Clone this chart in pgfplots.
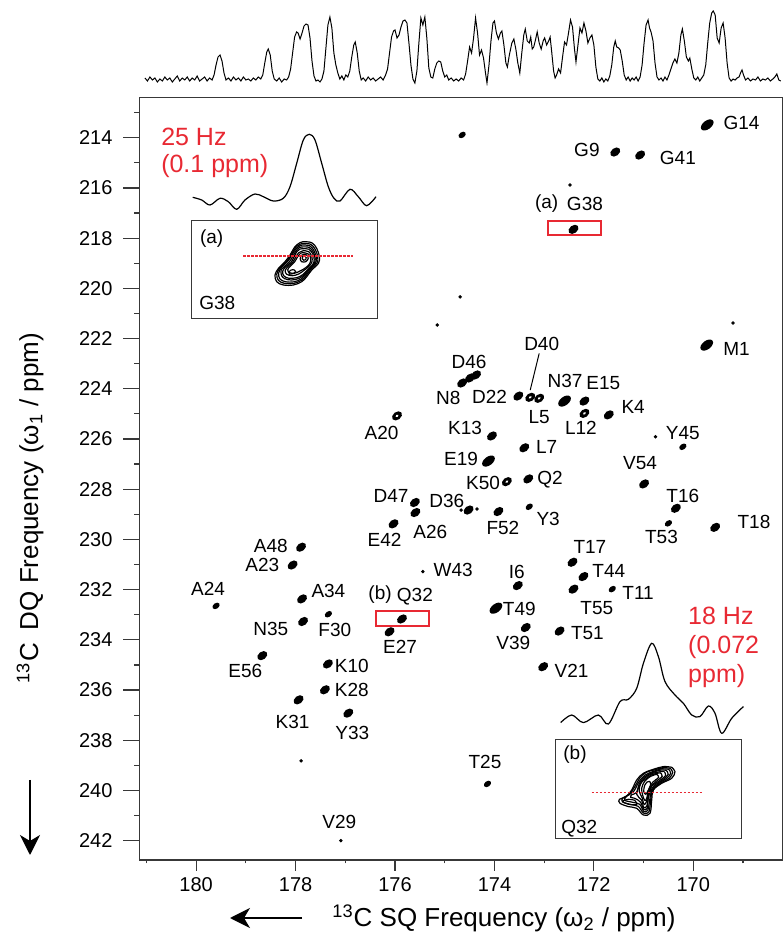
\documentclass[border=0pt]{standalone}
\usepackage{fontspec}
\setmainfont{Liberation Sans}
\usepackage{pgfplots}
\pgfplotsset{compat=1.18}
\usetikzlibrary{arrows.meta}

\definecolor{annot}{rgb}{0.91,0.16,0.20}
\definecolor{frame}{gray}{0.22}

% cross-peak marks: tilted ellipses of a few sizes
\pgfdeclareplotmark{pk}{%
  \pgfpathellipse{\pgfpointorigin}{\pgfqpoint{2.2pt}{1.7pt}}{\pgfqpoint{-1.2pt}{1.55pt}}%
  \pgfusepathqfill}
\pgfdeclareplotmark{pkL}{%
  \pgfpathellipse{\pgfpointorigin}{\pgfqpoint{2.9pt}{2.2pt}}{\pgfqpoint{-1.3pt}{1.7pt}}%
  \pgfusepathqfill}
\pgfdeclareplotmark{pkS}{%
  \pgfpathellipse{\pgfpointorigin}{\pgfqpoint{1.6pt}{1.2pt}}{\pgfqpoint{-0.85pt}{1.1pt}}%
  \pgfusepathqfill}
\pgfdeclareplotmark{pkR}{%
  \pgfpathellipse{\pgfpointorigin}{\pgfqpoint{2.2pt}{1.7pt}}{\pgfqpoint{-1.2pt}{1.55pt}}%
  \pgfusepathqfill
  \pgfscope\pgfsetfillcolor{white}%
  \pgfpathellipse{\pgfpointorigin}{\pgfqpoint{0.7pt}{0.5pt}}{\pgfqpoint{-0.35pt}{0.45pt}}%
  \pgfusepathqfill\endpgfscope}

\newcommand{\lab}[3]{\node[font=\fontsize{9.5}{10}\selectfont, inner sep=0pt] at (axis cs:#1,#2) {#3};}

\pgfplotsset{
  spec2d/.style={
    scale only axis, at={(69.75pt,39pt)}, anchor=south west,
    width=321.4pt, height=381.35pt,
    xmin=168.21, xmax=181.14, ymin=212.39, ymax=242.77,
    x dir=reverse, y dir=reverse, enlargelimits=false,
  },
  inset/.style={
    scale only axis, anchor=south west, clip=false,
    xtick=\empty, ytick=\empty, y dir=reverse,
    axis line style={frame, line width=0.5pt},
    axis background/.style={fill=white},
  },
  contour/.style={black, line width=0.6pt, smooth, tension=0.6, mark=none},
}

\begin{document}
\begin{tikzpicture}
\useasboundingbox (0,0) rectangle (391.5pt,469pt);

% ---------- 1D projection on top ----------
\begin{axis}[
  scale only axis, at={(69.75pt,426pt)}, anchor=south west,
  width=321.4pt, height=39pt,
  xmin=168.21, xmax=181.14, ymin=-3, ymax=75,
  x dir=reverse, hide axis, enlargelimits=false,
]
\addplot[black, line width=0.5pt, mark=none] table {
x y
181.03 5
180.98 2
180.93 6
180.88 3
180.83 5
180.78 1
180.73 4
180.68 2
180.63 6
180.58 3
180.53 5
180.48 1
180.43 4
180.38 7
180.33 2
180.28 5
180.23 3
180.18 6
180.13 2
180.08 5
180.03 3
179.98 7
179.93 2
179.88 4
179.83 6
179.78 2
179.73 5
179.68 3
179.64 8
179.60 18
179.56 26
179.52 28
179.48 22
179.44 10
179.40 3
179.35 5
179.30 2
179.25 6
179.20 3
179.15 5
179.10 2
179.05 6
179.00 3
178.95 4
178.90 2
178.85 5
178.80 3
178.75 6
178.70 4
178.66 8
178.62 20
178.58 31
178.55 34
178.51 28
178.47 12
178.43 4
178.38 2
178.33 5
178.28 1
178.23 4
178.18 3
178.14 6
178.10 14
178.06 30
178.02 46
177.98 51
177.95 50
177.91 44
177.87 50
177.83 57
177.79 59
177.75 58
177.71 45
177.67 22
177.63 7
177.59 2
177.55 3
177.51 1
177.47 4
177.43 12
177.39 35
177.35 58
177.31 66
177.27 55
177.23 30
177.19 18
177.15 10
177.11 4
177.07 7
177.03 3
176.99 8
176.95 6
176.91 12
176.87 26
176.83 38
176.80 41
176.76 30
176.72 12
176.68 3
176.64 5
176.59 2
176.54 6
176.49 3
176.44 5
176.39 2
176.34 4
176.29 6
176.24 3
176.19 8
176.15 14
176.11 30
176.07 46
176.03 52
176.00 53
175.96 45
175.92 48
175.88 56
175.84 62
175.80 63
175.76 60
175.72 40
175.68 18
175.64 4
175.60 0
175.56 12
175.52 40
175.48 65
175.44 58
175.40 66
175.36 45
175.32 15
175.28 6
175.24 5
175.20 14
175.16 20
175.12 22
175.08 21
175.04 12
175.00 6
174.96 8
174.92 3
174.87 5
174.82 2
174.77 4
174.72 2
174.67 5
174.62 3
174.58 9
174.54 22
174.50 36
174.46 30
174.42 45
174.38 65
174.34 50
174.30 28
174.26 33
174.22 25
174.18 10
174.15 0
174.11 18
174.07 42
174.03 60
174.00 62
173.96 50
173.92 44
173.88 50
173.85 52
173.81 38
173.77 20
173.74 16
173.70 28
173.65 40
173.61 44
173.57 34
173.53 20
173.49 10
173.45 30
173.41 48
173.38 54
173.34 42
173.30 40
173.27 46
173.24 34
173.21 36
173.18 42
173.14 51
173.10 40
173.06 34
173.02 42
172.99 45
172.95 38
172.91 42
172.88 46
172.85 32
172.81 12
172.78 5
172.75 8
172.71 14
172.67 10
172.63 26
172.59 41
172.55 38
172.51 50
172.47 63
172.43 56
172.39 34
172.36 21
172.32 38
172.28 55
172.24 50
172.20 60
172.16 52
172.12 40
172.08 45
172.04 48
172.00 38
171.96 16
171.92 4
171.88 2
171.84 5
171.80 1
171.76 4
171.72 2
171.68 7
171.64 18
171.60 36
171.57 42
171.54 36
171.50 35
171.47 33
171.43 22
171.39 8
171.35 3
171.31 6
171.27 2
171.23 5
171.19 3
171.15 6
171.11 2
171.07 6
171.03 18
170.99 40
170.95 58
170.91 63
170.88 55
170.85 51
170.81 42
170.77 20
170.73 6
170.69 3
170.65 5
170.61 2
170.57 6
170.53 3
170.49 8
170.45 14
170.41 20
170.37 24
170.33 20
170.29 30
170.25 48
170.22 54
170.18 42
170.14 26
170.10 22
170.07 25
170.03 14
169.99 5
169.95 3
169.91 6
169.87 2
169.83 5
169.79 8
169.75 18
169.71 40
169.67 60
169.63 70
169.60 72
169.56 68
169.52 45
169.48 40
169.44 55
169.40 60
169.36 45
169.32 20
169.28 5
169.24 2
169.20 4
169.16 3
169.12 5
169.08 6
169.05 10
169.02 13
168.99 8
168.95 3
168.90 5
168.85 2
168.80 4
168.75 3
168.70 6
168.65 2
168.60 4
168.55 3
168.50 5
168.45 2
168.40 4
168.36 6
168.32 9
168.28 3
168.24 2
};
\end{axis}

% ---------- 2D DQ/SQ correlation map ----------
\begin{axis}[spec2d,
  axis line style={frame, line width=0.6pt},
  xtick=\empty,
  ytick={214,216,...,242}, minor ytick={213,215,...,241},
  ytick pos=left, tick align=outside,
  major tick length=8pt, minor tick length=2.5pt,
  tick style={frame, line width=0.6pt},
  yticklabel style={font=\fontsize{10}{12}\selectfont, xshift=-2pt},
  /pgf/number format/assume math mode=true,
]
% normal cross peaks
\addplot[only marks, mark=pk, black, mark options={fill=black}] table {
x y
171.57 214.57
171.07 214.69
172.41 217.65
173.52 224.29
172.19 224.49
171.70 225.04
174.05 225.88
173.40 226.35
173.32 227.59
170.99 227.79
174.52 228.83
173.92 228.89
170.35 228.76
169.56 229.52
175.60 228.53
175.59 228.93
176.03 229.38
177.89 230.31
178.06 231.02
173.53 231.84
172.43 230.91
172.41 231.98
172.21 231.48
177.87 232.37
177.85 233.27
175.86 233.17
176.11 233.68
178.67 234.63
177.35 234.96
177.41 235.99
177.94 236.39
176.94 236.92
173.37 233.51
173.02 235.07
172.69 233.65
174.65 223.77
174.49 223.57
174.37 223.45
};
% larger, elongated cross peaks
\addplot[only marks, mark=pkL, black, mark options={fill=black}] table {
x y
169.72 213.49
169.73 222.26
172.59 224.49
174.12 226.88
173.97 232.74
};
% peaks with an open contour centre
\addplot[only marks, mark=pkR, black, mark options={fill=black}] table {
x y
173.28 224.34
173.10 224.38
172.19 224.98
173.75 227.70
175.96 225.08
};
% weak peaks
\addplot[only marks, mark=pkS, black, mark options={fill=black}] table {
x y
174.65 213.89
170.21 226.31
170.50 229.36
171.63 231.98
173.30 228.70
174.14 239.74
177.34 232.98
179.60 232.65
};
% very weak peaks
\addplot[only marks, mark=*, mark size=0.65pt, black] table {
x y
172.48 215.88
174.69 220.34
175.15 221.46
169.20 221.38
170.76 225.91
174.67 228.83
174.35 228.79
177.89 238.82
177.09 242.00
175.44 231.28
};

% marked regions
\draw[annot, line width=1pt] (axis cs:172.92,217.31) rectangle (axis cs:171.86,217.87);
\draw[annot, line width=1pt] (axis cs:176.39,232.84) rectangle (axis cs:175.31,233.45);
\draw[black, line width=0.5pt] (axis cs:173.10,222.59) -- (axis cs:173.28,224.05);

% residue assignments
\lab{169.03}{213.43}{G14}
\lab{172.14}{214.49}{G9}
\lab{170.31}{214.81}{G41}
\lab{172.95}{216.61}{(a)}
\lab{172.18}{216.64}{G38}
\lab{169.13}{222.41}{M1}
\lab{174.51}{222.92}{D46}
\lab{174.93}{224.38}{N8}
\lab{174.10}{224.31}{D22}
\lab{173.05}{222.23}{D40}
\lab{172.58}{223.69}{N37}
\lab{171.81}{223.78}{E15}
\lab{173.10}{225.11}{L5}
\lab{172.26}{225.55}{L12}
\lab{171.21}{224.74}{K4}
\lab{174.59}{225.57}{K13}
\lab{172.95}{226.31}{L7}
\lab{170.21}{225.77}{Y45}
\lab{174.67}{226.78}{E19}
\lab{171.07}{226.97}{V54}
\lab{174.23}{227.76}{K50}
\lab{172.88}{227.63}{Q2}
\lab{174.96}{228.47}{D36}
\lab{170.21}{228.27}{T16}
\lab{173.83}{229.56}{F52}
\lab{172.92}{229.18}{Y3}
\lab{168.78}{229.29}{T18}
\lab{175.29}{229.69}{A26}
\lab{170.64}{229.89}{T53}
\lab{172.08}{230.29}{T17}
\lab{174.83}{231.22}{W43}
\lab{173.55}{231.28}{I6}
\lab{171.70}{231.24}{T44}
\lab{171.11}{232.12}{T11}
\lab{171.94}{232.72}{T55}
\lab{176.08}{228.26}{D47}
\lab{176.21}{230.02}{E42}
\lab{176.27}{225.77}{A20}
\lab{178.50}{230.25}{A48}
\lab{178.67}{231.02}{A23}
\lab{179.76}{231.97}{A24}
\lab{177.34}{232.04}{A34}
\lab{176.30}{232.21}{(b)}
\lab{175.60}{232.28}{Q32}
\lab{178.50}{233.57}{N35}
\lab{177.21}{233.61}{F30}
\lab{175.90}{234.27}{E27}
\lab{173.50}{232.77}{T49}
\lab{173.62}{234.14}{V39}
\lab{172.13}{233.74}{T51}
\lab{172.45}{235.23}{V21}
\lab{179.01}{235.23}{E56}
\lab{176.87}{235.03}{K10}
\lab{176.87}{236.00}{K28}
\lab{178.06}{237.28}{K31}
\lab{176.86}{237.72}{Y33}
\lab{174.19}{238.85}{T25}
\lab{177.12}{241.26}{V29}

% linewidths of the sliced peaks
\node[annot, anchor=west, align=left, inner sep=0pt, font=\fontsize{12.5}{13.75}\selectfont]
  at (axis cs:180.71,214.61) {25 Hz\\(0.1 ppm)};
\node[annot, anchor=west, align=left, inner sep=0pt, font=\fontsize{12.5}{14.5}\selectfont]
  at (axis cs:170.11,234.31) {18 Hz\\(0.072\\ppm)};
\end{axis}

% x ticks (shorter than the y ticks)
\begin{axis}[spec2d,
  axis x line*=bottom, axis y line=none,
  x axis line style={frame, line width=0.6pt, -},
  xtick={170,172,...,180}, minor xtick={169,171,...,181},
  ytick=\empty, tick align=outside,
  major tick length=5.3pt, minor tick length=1.7pt,
  tick style={frame, line width=0.6pt},
  xticklabel style={font=\fontsize{10}{12}\selectfont},
  /pgf/number format/assume math mode=true,
]
\addplot[draw=none, mark=none] coordinates {(175,230)};
\end{axis}

% ---------- inset (a): G38 ----------
\begin{axis}[inset, at={(95.85pt,309.65pt)}, width=92.8pt, height=49pt,
  xmin=-105, xmax=80.6, ymin=-46, ymax=52]
\addplot[contour] coordinates {(6.7,-25) (15,-24) (20,-18.3) (22.7,-10) (21.7,-3.3) (15,3.3) (10,10) (5,15) (-3.3,18.3) (-13.3,18.3) (-20,15) (-21.7,8.3) (-18.3,1.7) (-11.7,-5) (-6.7,-11.7) (-1.7,-20) (3.3,-24) (6.7,-25)};
\addplot[contour] coordinates {(6.2,-23.2) (14,-22.4) (18.6,-17.1) (21.1,-9.5) (20.2,-3.3) (14,2.8) (9.4,9) (4.8,13.6) (-2.9,16.7) (-12.1,16.7) (-18.3,13.6) (-19.9,7.4) (-16.8,1.3) (-10.6,-4.8) (-6,-11) (-1.4,-18.7) (3.2,-22.4) (6.2,-23.2)};
\addplot[contour] coordinates {(6.0,-21.7) (13.05,-20.85) (17.3,-16.0) (19.6,-8.95) (18.7,-3.3) (13.05,2.36) (8.8,8.05) (4.55,12.3) (-2.5,15.1) (-11.0,15.1) (-16.7,12.3) (-18.1,6.6) (-15.3,1.0) (-9.6,-4.7) (-5.4,-10.4) (-1.1,-17.45) (3.1,-20.85) (6.0,-21.7)};
\addplot[contour] coordinates {(6.2,-19.8) (12.5,-19.2) (16.6,-14.5) (18.5,-8) (17.3,-2.6) (12,2.7) (7.4,8) (2.3,11.7) (-5.2,13.3) (-12,12) (-15.3,8.5) (-15.5,3) (-13,0.5) (-7.8,-4.3) (-4.2,-9.7) (-0.5,-16.2) (3,-19.2) (6.2,-19.8)};
\addplot[contour] coordinates {(6.5,-18) (12,-17.5) (16,-13) (17.5,-7) (16,-2) (11,3) (6,8) (0,11) (-8,11.5) (-13,9) (-14,4.5) (-11,0) (-6,-4) (-3,-9) (0,-15) (3,-17.5) (6.5,-18)};
\addplot[contour] coordinates {(6.8,-16) (12,-15) (15,-10.5) (15.3,-5) (12.5,-0.5) (7.5,3.5) (2,7.3) (-4.5,9) (-10,7.5) (-11.5,3.8) (-8.5,-0.5) (-4,-4.5) (-1,-9.5) (2,-14) (6.8,-16)};
\addplot[contour] coordinates {(7,-14) (12,-12.5) (14,-8) (13,-3) (9,1) (4,4) (-2,6.5) (-7,6) (-9,3) (-6,-1) (-2,-5) (1,-10) (4,-13.5) (7,-14)};
\addplot[contour] coordinates {(8,-12.5) (11,-11) (11.5,-8) (9,-5) (5,-5) (3.5,-8) (5,-11.5) (8,-12.5)};
\addplot[contour] coordinates {(8,-10.5) (9.5,-9) (9,-7) (7,-6.5) (5.5,-8) (6,-10) (8,-10.5)};
\addplot[contour] coordinates {(-3,3) (-1,5) (-4,7) (-7,7.5) (-8,5.5) (-6,3.5) (-3,3)};
\addplot[annot, line width=0.6pt, dash pattern=on 1.2pt off 0.8pt] coordinates {(-53.3,-10.7) (56,-10.7)};
% slice through the peak
\addplot[black, line width=0.6pt, smooth, tension=0.55] coordinates {
(-104,-69.4) (-95,-66.7) (-86.7,-61.7) (-76.7,-68.4) (-68.4,-65) (-60,-57.4) (-51.7,-66.7) (-41.7,-72.7) (-33.4,-70) (-23.4,-65.7) (-13.4,-68.4) (-6.7,-80) (0,-103.4) (6.6,-126.7) (12.6,-132.4) (18.3,-126.7) (25,-103.4) (31.6,-80) (37.3,-68.4) (43.3,-65.7) (53.3,-77.4) (61.6,-70) (70,-61) (79.3,-70)};
\node[font=\fontsize{9.5}{11}\selectfont, inner sep=0pt] at (axis cs:-85,-28.4) {(a)};
\node[font=\fontsize{9.5}{11}\selectfont, inner sep=0pt] at (axis cs:-79.4,36.6) {G38};
\end{axis}

% ---------- inset (b): Q32 ----------
\begin{axis}[inset, at={(277.85pt,49.85pt)}, width=93pt, height=49.5pt,
  xmin=-91, xmax=95, ymin=-49, ymax=50]
\addplot[contour] coordinates {(25,-21) (28.3,-16.7) (25,-10) (15,-5) (6.7,1.7) (5,11.7) (3.3,25) (-3.3,26.7) (-10,20) (-18.3,18.3) (-26.7,15) (-27.3,11) (-20.7,8.3) (-15,1.7) (-10,-8.3) (-3.3,-15) (6.7,-19) (16.7,-21.7) (25,-21)};
\addplot[contour] coordinates {(23.5,-20) (26,-16) (22.5,-10) (13.5,-5) (6,1.8) (4,11.8) (2.2,23.5) (-3.1,24.8) (-8.5,18) (-16,16.2) (-24.3,13.5) (-23.6,9.6) (-17,5.6) (-11.5,-2.3) (-6.7,-10.7) (-0.3,-16) (7,-18.2) (16,-20.6) (23.5,-20)};
\addplot[contour] coordinates {(22,-19) (24,-15) (20,-10) (12,-5) (5,2) (3,12) (1,22) (-3,23) (-7,16) (-14,14) (-22,12) (-20,8) (-13,3) (-8,-6) (-2,-13) (7,-17) (15,-19.5) (22,-19)};
\addplot[contour] coordinates {(19.5,-18) (21.5,-14) (16,-8.5) (8.5,-3.5) (3.5,3) (1.5,10) (0.5,20) (-3,21) (-6,14) (-12,10) (-16,9) (-15,6.5) (-10,4) (-7.5,-4.5) (-2,-11.5) (6.5,-16) (14,-18.2) (19.5,-18)};
\addplot[contour] coordinates {(17,-17) (19,-13) (12,-7) (5,-2) (2,8) (0,18) (-3,19) (-5,12) (-10,6) (-7,-3) (-2,-10) (6,-15) (17,-17)};
\addplot[contour] coordinates {(13.5,-15.5) (15.5,-12) (9,-6.5) (3.5,-0.5) (1,9) (-1,15) (-3,15.5) (-4.5,9.5) (-7.5,3) (-6,-5) (-2,-8.5) (5,-13.5) (13.5,-15.5)};
\addplot[contour] coordinates {(10,-14) (12,-11) (6,-6) (2,1) (0,10) (-2,12) (-4,7) (-5,0) (-2,-7) (4,-12) (10,-14)};
\addplot[contour] coordinates {(3,-7) (4,-3) (1,3) (-1,6) (-3,3) (-2,-3) (0,-6) (3,-7)};
\addplot[contour] coordinates {(-12,12) (-10,16) (-18,16) (-24,13) (-18,11) (-12,12)};
\addplot[annot, line width=0.6pt, dash pattern=on 1.2pt off 0.8pt] coordinates {(-55,4.3) (55.7,4.3)};
% slice through the peak
\addplot[black, line width=0.6pt, smooth, tension=0.55] coordinates {
(-86,-65.7) (-75,-73.3) (-63.3,-65.7) (-48.3,-73.3) (-38.3,-64.3) (-26.7,-86.7) (-18.3,-89) (-10,-100) (-3.3,-125) (5,-145) (11.7,-131.7) (18.3,-106.7) (28.3,-93.3) (36.7,-85) (45,-73.3) (53.3,-71.7) (61.7,-82.3) (68.3,-75) (75,-55) (85,-70) (96.7,-81.7)};
\node[font=\fontsize{9.5}{11}\selectfont, inner sep=0pt] at (axis cs:-71.7,-33.3) {(b)};
\node[font=\fontsize{9.5}{11}\selectfont, inner sep=0pt] at (axis cs:-67.4,40) {Q32};
\end{axis}

% ---------- axis titles ----------
\node[font=\fontsize{13}{15}\selectfont] at (252pt,10pt)
  {\textsuperscript{13}C SQ Frequency (ω\textsubscript{2} / ppm)};
\draw[-{Stealth[length=10pt,width=10pt,inset=3pt]}, line width=0.8pt] (151pt,10pt) -- (115pt,10pt);
\node[font=\fontsize{13}{15}\selectfont, rotate=90] at (15pt,215pt)
  {\textsuperscript{13}C\enspace DQ Frequency (ω\textsubscript{1} / ppm)};
\draw[-{Stealth[length=10pt,width=10pt,inset=3pt]}, line width=0.8pt] (15pt,79pt) -- (15pt,41.5pt);
\end{tikzpicture}
\end{document}
